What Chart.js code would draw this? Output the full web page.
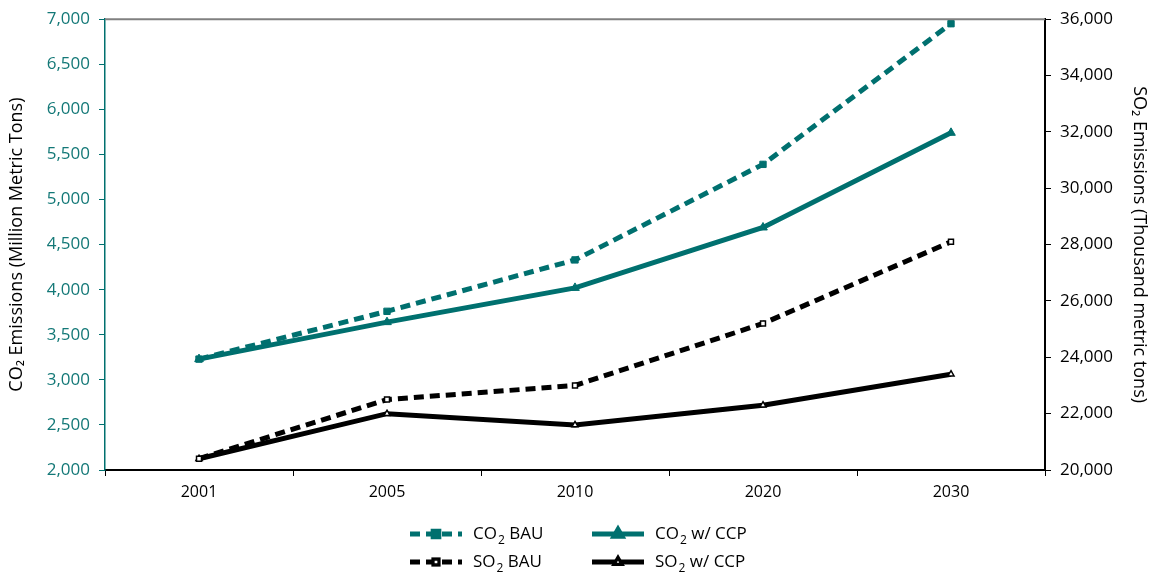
<!DOCTYPE html>
<html>
<head>
<meta charset="utf-8">
<script src="https://cdn.jsdelivr.net/npm/chart.js@4/dist/chart.umd.min.js"></script>
<style>
  body { margin: 0; background: #fff; }
  canvas { display: block; }
</style>
</head>
<body>
<canvas id="emChart" width="1150" height="578"></canvas>
<script>
// data
const years = ['2001', '2005', '2010', '2020', '2030'];
const co2Bau = [3230, 3760, 4330, 5390, 6950];
const co2Ccp = [3230, 3640, 4020, 4690, 5740];
const so2Bau = [20400, 22500, 23000, 25200, 28100];
const so2Ccp = [20400, 22000, 21600, 22300, 23400];

const teal = '#00706F';
const tickTeal = '#137877';
const font = { family: '"Open Sans", sans-serif', size: 17 };
const xFont = { family: '"Open Sans", sans-serif', size: 16 };
const titleFont = { family: '"Open Sans", sans-serif', size: 18 };

// legend drawn by hand, so the line sample carries the marker in its middle
const legendPlugin = {
  id: 'bottomLegend',
  afterDraw(chart) {
    const c = chart.ctx;
    const items = [
      { ds: 0, x: 410, y: 534, base: 'CO', rest: ' BAU' },
      { ds: 1, x: 592, y: 534, base: 'CO', rest: ' w/ CCP' },
      { ds: 2, x: 410, y: 562, base: 'SO', rest: ' BAU' },
      { ds: 3, x: 592, y: 562, base: 'SO', rest: ' w/ CCP' }
    ];
    c.save();
    items.forEach(it => {
      const d = chart.data.datasets[it.ds];
      c.strokeStyle = d.borderColor;
      c.lineWidth = d.borderWidth;
      c.setLineDash(d.borderDash || []);
      c.beginPath();
      c.moveTo(it.x, it.y);
      c.lineTo(it.x + 52, it.y);
      c.stroke();
      c.setLineDash([]);
      Chart.helpers.drawPoint(c, {
        pointStyle: d.pointStyle,
        radius: d.pointRadius - 0.5,
        rotation: 0,
        borderWidth: d.pointBorderWidth
      }, it.x + 26, it.y);
      c.fillStyle = d.pointBackgroundColor;
      c.strokeStyle = d.pointBorderColor;
      c.lineWidth = d.pointBorderWidth;
      c.fill();
      c.stroke();

      c.fillStyle = '#000';
      c.textBaseline = 'middle';
      c.font = '17px "Open Sans", sans-serif';
      let tx = it.x + 63;
      c.fillText(it.base, tx, it.y);
      tx += c.measureText(it.base).width;
      c.font = '12px "Open Sans", sans-serif';
      c.fillText('2', tx + 1, it.y + 7);
      tx += c.measureText('2').width + 1;
      c.font = '17px "Open Sans", sans-serif';
      c.fillText(it.rest, tx, it.y);
    });
    // grey top frame line
    const a = chart.chartArea;
    c.strokeStyle = '#808080';
    c.lineWidth = 2;
    c.beginPath();
    c.moveTo(a.left, a.top);
    c.lineTo(a.right, a.top);
    c.stroke();
    c.restore();
  }
};

const ctx = document.getElementById('emChart');
const emChart = new Chart(ctx, {
  type: 'line',
  data: {
    labels: years,
    datasets: [
      {
        label: 'CO2 BAU', data: co2Bau, yAxisID: 'y',
        borderColor: teal, borderWidth: 5, borderDash: [10, 6],
        pointStyle: 'rect', pointRadius: 4.5, pointBorderWidth: 1,
        pointBackgroundColor: teal, pointBorderColor: teal
      },
      {
        label: 'CO2 w/ CCP', data: co2Ccp, yAxisID: 'y',
        borderColor: teal, borderWidth: 5,
        pointStyle: 'triangle', pointRadius: 5, pointBorderWidth: 1,
        pointBackgroundColor: teal, pointBorderColor: teal
      },
      {
        label: 'SO2 BAU', data: so2Bau, yAxisID: 'y1',
        borderColor: '#000', borderWidth: 5, borderDash: [10, 6],
        pointStyle: 'rect', pointRadius: 3.5, pointBorderWidth: 1.5,
        pointBackgroundColor: '#fff', pointBorderColor: '#000'
      },
      {
        label: 'SO2 w/ CCP', data: so2Ccp, yAxisID: 'y1',
        borderColor: '#000', borderWidth: 5,
        pointStyle: 'triangle', pointRadius: 3.5, pointBorderWidth: 1.5,
        pointBackgroundColor: '#fff', pointBorderColor: '#000'
      }
    ]
  },
  options: {
    responsive: false,
    animation: false,
    layout: { padding: { top: 19, bottom: 68 } },
    plugins: { legend: { display: false }, tooltip: { enabled: false } },
    scales: {
      x: {
        offset: true,
        grid: { offset: true, drawOnChartArea: false, tickLength: 6, color: '#000' },
        border: { color: '#000', width: 2 },
        ticks: { color: '#000', font: xFont, padding: 7 },
        afterFit(s) { s.height = 40; }
      },
      y: {
        position: 'left', min: 2000, max: 7000,
        ticks: { stepSize: 500, color: tickTeal, font: font, padding: 9 },
        grid: { drawOnChartArea: false, tickLength: 6, color: teal },
        border: { color: teal, width: 1.5 },
        title: { display: true, text: 'CO₂ Emissions (Million Metric Tons)', color: '#000', font: titleFont, padding: { top: 6, bottom: 0 } },
        afterFit(s) { s.width = 105; }
      },
      y1: {
        position: 'right', min: 20000, max: 36000,
        ticks: { stepSize: 2000, color: '#000', font: font, padding: 9 },
        grid: { drawOnChartArea: false, tickLength: 6, color: '#000' },
        border: { color: '#000', width: 2 },
        title: { display: true, text: 'SO₂ Emissions (Thousand metric tons)', color: '#000', font: titleFont, padding: { top: 0, bottom: 0 } },
        afterFit(s) { s.width = 105; }
      }
    }
  },
  plugins: [legendPlugin]
});
</script>
</body>
</html>
